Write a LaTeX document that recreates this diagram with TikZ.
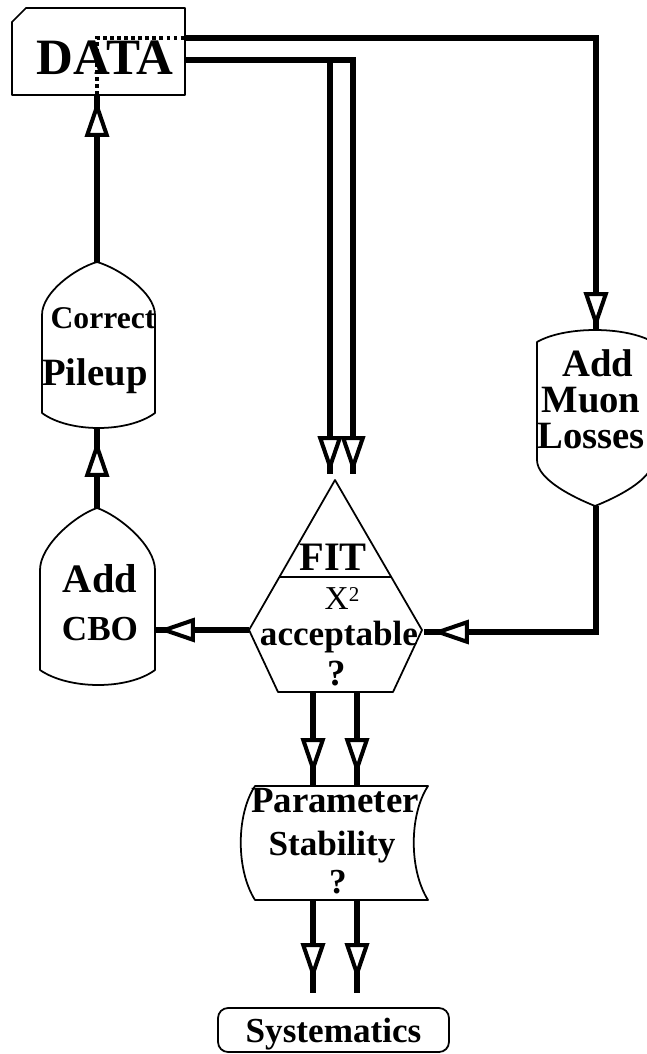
\documentclass[tikz,border=0pt]{standalone}
\usepackage{fontspec}
\setmainfont{Liberation Serif}
\usetikzlibrary{arrows.meta,calc,decorations.markings}

\begin{document}
\begin{tikzpicture}[
  x=0.02cm, y=-0.02cm,
  hollowhead/.tip={Triangle[fill=white,length=0.74cm,width=0.48cm,line width'=2.3pt]},
  flow/.style={line width=3.7pt, postaction={decorate},
               decoration={markings, mark=at position #1 with {\arrow{hollowhead}}}},
  flow/.default=-0.5pt,
  outline/.style={draw, line width=1pt, line join=round},
  hidden/.style={dotted, line width=2pt},
  lbl/.style={font=\bfseries\fontsize{#1}{#1}\selectfont, inner sep=0pt, anchor=base},
  sysbox/.style={draw, line width=1pt, rounded corners=0.2cm, minimum width=4.62cm,
                 minimum height=0.88cm, text depth=0pt, font=\bfseries\fontsize{20}{20}\selectfont},
]
\useasboundingbox (0,0) rectangle (646,1054);

%% ── DATA ─────────────────────────────────────────────────────────────────────
\draw[outline] (12,22) -- (26,8) -- (185,8) -- (185,95) -- (12,95) -- cycle;
\node[lbl=29] (data) at (105,75) {DATA};
\coordinate (data-e1) at (185,38);
\coordinate (data-e2) at (185,60);
\coordinate (data-s)  at (97,95);
\draw[hidden] (data-s) |- (data-e1);

%% ── Correct Pileup ───────────────────────────────────────────────────────────
\draw[outline] (42,413) -- (42,315) .. controls (42,292) and (76,268) .. (97,262)
  .. controls (118,268) and (155,292) .. (155,315) -- (155,413)
  .. controls (128,433) and (69,433) .. (42,413) -- cycle;
\node[lbl=18] (pileup-a) at (103,328) {Correct};
\node[lbl=22] (pileup-b) at (95,385) {Pileup};
\coordinate (pileup-n) at (97,262);
\coordinate (pileup-s) at (97,428);

%% ── Add CBO ──────────────────────────────────────────────────────────────────
\draw[outline] (40,670) -- (40,570) .. controls (40,545) and (76,515) .. (97,508)
  .. controls (118,515) and (155,545) .. (155,570) -- (155,670)
  .. controls (128,690) and (69,690) .. (40,670) -- cycle;
\node[lbl=23] (cbo-a) at (100,592) {Add};
\node[lbl=20] (cbo-b) at (100,640) {CBO};
\coordinate (cbo-n) at (97,508);
\coordinate (cbo-e) at (155,630);

%% ── Add Muon Losses ──────────────────────────────────────────────────────────
\draw[outline] (537,460) -- (537,342) .. controls (565,326) and (625,326) .. (653,342)
  -- (653,460) .. controls (653,480) and (615,498) .. (595,506)
  .. controls (575,498) and (537,480) .. (537,460) -- cycle;
\node[lbl=22] (muon-a) at (598,376) {Add};
\node[lbl=22] (muon-b) at (591,412) {Muon};
\node[lbl=22] (muon-c) at (591,448) {Losses};
\coordinate (muon-n) at (596,330);
\coordinate (muon-s) at (596,506);

%% ── FIT ──────────────────────────────────────────────────────────────────────
\draw[outline] (335,480) -- (422,630) -- (393,692) -- (278,692) -- (249,630) -- cycle;
\draw[outline] (279,577) -- (392,577);
\node[lbl=23] (fit-a) at (333,570) {FIT};
\node[lbl=19, font=\fontsize{19}{19}\selectfont] (fit-b) at (342,609)
  {X\raisebox{4.4pt}{\fontsize{12}{12}\selectfont 2}};
\node[lbl=20] (fit-c) at (339,645) {acceptable};
\node[lbl=21] (fit-d) at (337,685) {?};
\coordinate (split)  at (330,60);
\coordinate (fit-n1) at (330,474);
\coordinate (fit-n2) at (353,474);
\coordinate (fit-w)  at (249,630);
\coordinate (fit-e)  at (424,632);
\coordinate (fit-s1) at (313,692);
\coordinate (fit-s2) at (357,692);

%% ── Parameter Stability ──────────────────────────────────────────────────────
\draw[outline] (255,786) -- (428,786) .. controls (409,815) and (409,870) .. (428,900)
  -- (255,900) .. controls (236,870) and (236,815) .. (255,786) -- cycle;
\node[lbl=21] (param-a) at (335,812) {Parameter};
\node[lbl=20] (param-b) at (332,855) {Stability};
\node[lbl=20] (param-c) at (338,893) {?};
\coordinate (param-n1) at (313,786);
\coordinate (param-n2) at (357,786);
\coordinate (param-s1) at (313,900);
\coordinate (param-s2) at (357,900);

%% ── Systematics ──────────────────────────────────────────────────────────────
\node[sysbox] (sys) at (333.5,1030) {Systematics};
\coordinate (sys-n1) at (313,993);
\coordinate (sys-n2) at (357,993);

%% ── Connectors ───────────────────────────────────────────────────────────────
\draw[flow] (data-e1) -| (muon-n);
\draw[flow] (data-e2) -| (fit-n2);
\draw[flow] (split) -- (fit-n1);
\draw[flow=-0.16cm] (muon-s) |- (fit-e);
\draw[flow=-0.06cm] (fit-w) -- (cbo-e);
\draw[flow=-0.24cm] (cbo-n) -- (pileup-s);
\draw[flow=-0.1cm] (pileup-n) -- (data-s);
\draw[flow=-0.22cm] (fit-s1) -- (param-n1);
\draw[flow=-0.22cm] (fit-s2) -- (param-n2);
\draw[flow=-0.26cm] (param-s1) -- (sys-n1);
\draw[flow=-0.26cm] (param-s2) -- (sys-n2);

\end{tikzpicture}
\end{document}
